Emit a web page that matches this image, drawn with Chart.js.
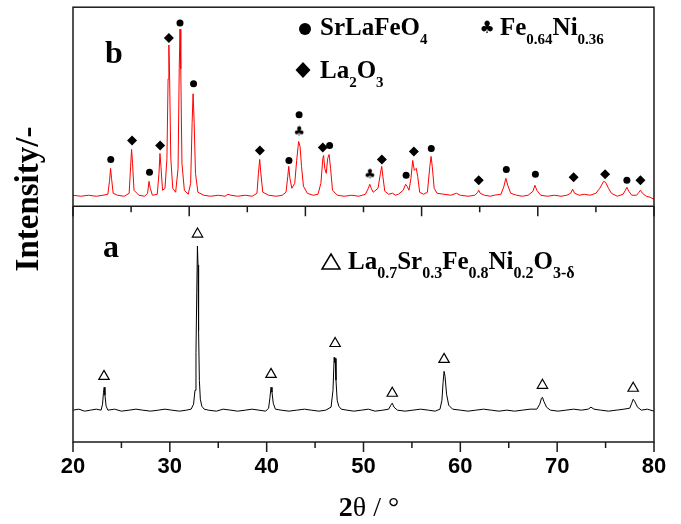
<!DOCTYPE html>
<html>
<head>
<meta charset="utf-8">
<script src="https://cdn.jsdelivr.net/npm/chart.js@4/dist/chart.umd.min.js"></script>
<style>
  html, body { margin: 0; padding: 0; background: #fff; }
  #wrap { width: 681px; height: 524px; position: relative; }
</style>
</head>
<body>
<div id="wrap"><canvas id="xrdChart"></canvas></div>
<script>
// pattern a: La0.7Sr0.3Fe0.8Ni0.2O3-d (black)
const twoThetaA = [20.0, 20.6, 21.2, 21.8, 22.4, 22.9, 23.05, 23.15, 23.22, 23.3, 23.42, 23.6, 24.3, 25.0, 25.8, 26.5, 27.2, 28.0, 28.8, 29.5,
  30.2, 31.0, 31.7, 32.2, 32.45, 32.6, 32.7, 32.78, 32.85, 32.91, 32.97, 33.05, 33.15, 33.3, 33.55, 34.0, 34.8, 35.5, 36.3, 37.0,
  37.8, 38.5, 39.2, 39.9, 40.2, 40.33, 40.45, 40.55, 40.68, 40.9, 41.5, 42.3, 43.1, 43.9, 44.6, 45.4, 46.1, 46.65, 46.85, 46.97,
  47.03, 47.09, 47.16, 47.28, 47.45, 47.7, 48.3, 49.0, 49.8, 50.5, 51.2, 52.0, 52.6, 52.82, 52.97, 53.15, 53.5, 54.3, 55.1, 55.9,
  56.7, 57.4, 57.9, 58.1, 58.22, 58.32, 58.42, 58.58, 58.8, 59.2, 60.0, 60.8, 61.6, 62.4, 63.2, 64.0, 64.8, 65.6, 66.4, 67.2,
  67.9, 68.2, 68.38, 68.48, 68.62, 68.9, 69.3, 70.1, 70.9, 71.7, 72.5, 73.2, 73.5, 73.8, 74.5, 75.3, 76.1, 76.9, 77.5, 77.7,
  77.85, 78.0, 78.3, 78.7, 79.3, 80.0];
const intensityA = [32, 33, 31, 32, 33, 32, 38, 50, 55, 47, 36, 32, 33, 31, 32, 33, 32, 31, 32, 33,
  32, 31, 32, 33, 38, 52, 90, 150, 197, 178, 112, 62, 43, 36, 33, 32, 31, 33, 32, 31,
  32, 33, 32, 31, 34, 44, 55, 50, 39, 33, 32, 31, 32, 33, 32, 31, 32, 35, 52, 85,
  80, 84, 62, 42, 36, 33, 32, 31, 32, 33, 31, 32, 33, 37, 39, 35, 32, 31, 32, 33,
  32, 31, 33, 42, 60, 71, 66, 48, 37, 33, 32, 31, 32, 33, 32, 31, 32, 31, 32, 33,
  33, 38, 44, 45, 41, 35, 32, 31, 32, 33, 32, 33, 35, 33, 32, 31, 32, 33, 34, 39,
  43, 41, 35, 32, 33, 31];

// pattern b: reduced sample (red)
const twoThetaB = [20.0, 20.8, 21.6, 22.4, 23.1, 23.6, 23.78, 23.88, 23.98, 24.15, 24.6, 25.3, 25.8, 25.95, 26.05, 26.15, 26.3, 26.8, 27.4, 27.7,
  27.85, 27.98, 28.2, 28.7, 28.88, 28.98, 29.08, 29.25, 29.5, 29.7, 29.82, 29.9, 29.98, 30.1, 30.3, 30.6, 30.85, 30.97, 31.05, 31.13,
  31.25, 31.5, 31.9, 32.15, 32.3, 32.4, 32.5, 32.65, 32.9, 33.5, 34.2, 35.0, 35.7, 36.0, 36.3, 37.0, 37.8, 38.5, 39.0, 39.15,
  39.28, 39.4, 39.6, 40.2, 41.0, 41.6, 42.0, 42.18, 42.28, 42.4, 42.6, 42.9, 43.1, 43.3, 43.45, 43.6, 43.8, 44.2, 44.8, 45.3,
  45.6, 45.8, 45.88, 46.0, 46.15, 46.3, 46.45, 46.6, 46.8, 47.3, 48.0, 48.8, 49.5, 50.2, 50.5, 50.65, 50.8, 51.0, 51.5, 51.75,
  51.88, 52.0, 52.2, 52.6, 53.0, 53.3, 53.6, 54.1, 54.35, 54.5, 54.7, 54.9, 55.08, 55.25, 55.45, 55.6, 55.8, 56.2, 56.6, 56.85,
  56.98, 57.1, 57.3, 57.6, 58.3, 59.0, 59.6, 60.0, 60.8, 61.5, 61.8, 61.9, 62.05, 62.5, 63.1, 63.5, 64.2, 64.5, 64.7, 64.9,
  65.2, 65.8, 66.4, 67.0, 67.5, 67.7, 67.9, 68.3, 69.0, 69.7, 70.4, 71.0, 71.4, 71.6, 71.8, 72.3, 72.8, 73.4, 74.0, 74.4,
  74.8, 75.0, 75.3, 75.6, 76.2, 76.8, 77.05, 77.2, 77.4, 77.7, 78.2, 78.45, 78.6, 78.8, 79.2, 79.6, 80.0];
const intensityB = [33, 32, 33, 32, 33, 34, 48, 60, 50, 35, 33, 32, 35, 62, 79, 65, 38, 33, 32, 35,
  47, 40, 33, 34, 55, 75, 62, 38, 40, 70, 150, 184, 150, 70, 40, 36, 60, 160, 200, 160,
  65, 38, 34, 45, 105, 135, 110, 55, 36, 33, 32, 33, 32, 34, 33, 32, 33, 32, 35, 55,
  69, 55, 36, 33, 32, 33, 36, 52, 62, 50, 40, 45, 68, 87, 82, 62, 42, 35, 33, 34,
  45, 70, 73, 60, 55, 70, 74, 60, 38, 33, 32, 33, 32, 34, 40, 44, 40, 36, 40, 55,
  62, 52, 37, 34, 35, 33, 34, 38, 44, 42, 38, 50, 68, 58, 60, 52, 36, 34, 36, 62,
  72, 62, 40, 35, 34, 33, 35, 33, 32, 33, 36, 38, 35, 33, 32, 33, 34, 42, 50, 43,
  35, 33, 32, 33, 37, 43, 38, 33, 32, 33, 32, 33, 35, 39, 35, 33, 34, 33, 35, 40,
  47, 46, 40, 35, 32, 34, 38, 41, 37, 33, 33, 36, 38, 35, 32, 31, 29];

// phase markers
const perovskite2Theta = [23.2, 32.86, 40.45, 47.07, 52.97, 58.32, 68.48, 77.85];
const perovskiteY = [66, 209, 68, 99, 49, 83, 57, 54];
const srLaFeO4_2Theta = [23.9, 27.9, 31.05, 32.45, 42.3, 43.35, 46.5, 54.4, 57.0, 64.75, 67.75, 77.2];
const srLaFeO4_Y = [69, 56, 206, 145, 68, 114, 83, 53, 80, 59, 54, 48];
const la2O3_2Theta = [26.1, 29.0, 29.9, 39.3, 45.8, 51.9, 55.2, 61.9, 71.7, 74.95, 78.6];
const la2O3_Y = [88, 83, 191, 78, 81, 69, 77, 48, 51, 54, 48];
const feNi2Theta = [43.35, 50.65];
const feNiY = [97, 54];

const offsetB = 215;
const yMax = 437;
const dividerY = 237;

const pts = (xs, ys, off) => xs.map((x, i) => ({ x: x, y: ys[i] + off }));

function clubImage() {
  const c = document.createElement("canvas");
  c.width = 14; c.height = 14;
  const g = c.getContext("2d");
  g.fillStyle = "#000";
  g.font = "13px 'DejaVu Sans'";
  g.textAlign = "center";
  g.textBaseline = "middle";
  g.fillText("\u2663", 7, 8);
  return c;
}

const serif = "'Liberation Serif', 'Times New Roman', serif";

function drawRich(ctx, x, y, parts, size, subSize, subDrop) {
  let cx = x;
  ctx.textAlign = "left";
  ctx.textBaseline = "alphabetic";
  parts.forEach(p => {
    const sub = p[1];
    ctx.font = "bold " + (sub ? subSize : size) + "px " + serif;
    ctx.fillText(p[0], cx, sub ? y + subDrop : y);
    cx += ctx.measureText(p[0]).width;
  });
}

const decor = {
  id: "decor",
  afterDatasetsDraw(chart) {
    const ctx = chart.ctx;
    const a = chart.chartArea;
    const xs = chart.scales.x;
    const ys = chart.scales.y;
    ctx.save();
    ctx.strokeStyle = "#1a1a1a";
    ctx.lineWidth = 1.5;
    ctx.strokeRect(a.left, a.top, a.right - a.left, a.bottom - a.top);
    const dy = ys.getPixelForValue(dividerY);
    ctx.beginPath();
    ctx.moveTo(a.left, dy); ctx.lineTo(a.right, dy);
    // bottom axis ticks
    for (let v = 20; v <= 80; v += 5) {
      const px = xs.getPixelForValue(v);
      ctx.moveTo(px, a.bottom);
      ctx.lineTo(px, a.bottom + (v % 10 === 0 ? 10 : 6));
    }
    // divider ticks (top panel axis)
    for (let k = 0; k <= 10; k++) {
      const px = xs.getPixelForValue(20 + 6 * k);
      ctx.moveTo(px, dy);
      ctx.lineTo(px, dy + (k % 2 === 0 ? 10 : 6));
    }
    ctx.stroke();
    ctx.restore();
  },
  afterDraw(chart) {
    const ctx = chart.ctx;
    ctx.save();
    ctx.fillStyle = "#000";
    ctx.strokeStyle = "#000";

    // panel letters
    ctx.font = "bold 32px " + serif;
    ctx.textAlign = "left";
    ctx.textBaseline = "alphabetic";
    ctx.fillText("b", 105, 63);
    ctx.fillText("a", 103, 257);

    // legend: SrLaFeO4
    ctx.beginPath(); ctx.arc(305, 29, 6, 0, Math.PI * 2); ctx.fill();
    drawRich(ctx, 320, 35, [["SrLaFeO", 0], ["4", 1]], 25, 15, 9);

    // legend: Fe0.64Ni0.36
    ctx.font = "17px 'DejaVu Sans'";
    ctx.textAlign = "center"; ctx.textBaseline = "middle";
    ctx.fillText("\u2663", 487, 29);
    drawRich(ctx, 500, 35, [["Fe", 0], ["0.64", 1], ["Ni", 0], ["0.36", 1]], 25, 15, 9);

    // legend: La2O3
    ctx.beginPath();
    ctx.moveTo(303, 62); ctx.lineTo(310.5, 70); ctx.lineTo(303, 78); ctx.lineTo(295.5, 70);
    ctx.closePath(); ctx.fill();
    drawRich(ctx, 320, 78, [["La", 0], ["2", 1], ["O", 0], ["3", 1]], 25, 15, 9);

    // legend: perovskite
    ctx.lineWidth = 1.5;
    ctx.beginPath();
    ctx.moveTo(331, 254); ctx.lineTo(340, 269); ctx.lineTo(322, 269);
    ctx.closePath(); ctx.stroke();
    drawRich(ctx, 348, 269, [["La", 0], ["0.7", 1], ["Sr", 0], ["0.3", 1], ["Fe", 0], ["0.8", 1], ["Ni", 0], ["0.2", 1], ["O", 0], ["3-\u03b4", 1]], 25, 16, 9);

    // y axis title
    ctx.save();
    ctx.translate(29, 199);
    ctx.rotate(-Math.PI / 2);
    ctx.font = "bold 33px " + serif;
    ctx.textAlign = "center";
    ctx.textBaseline = "middle";
    ctx.fillText("Intensity/-", 0, 0);
    ctx.restore();

    // x axis title: 2θ / °
    ctx.textBaseline = "alphabetic";
    ctx.textAlign = "left";
    ctx.font = "bold 28px " + serif;
    const w2 = ctx.measureText("2").width;
    ctx.font = "28px " + serif;
    const rest = "\u03b8 / \u00b0";
    const wr = ctx.measureText(rest).width;
    const x0 = 369 - (w2 + wr) / 2;
    ctx.font = "bold 28px " + serif;
    ctx.fillText("2", x0, 516);
    ctx.font = "28px " + serif;
    ctx.fillText(rest, x0 + w2, 516);

    ctx.restore();
  }
};

const data = {
  datasets: [
    {
      label: "b",
      data: pts(twoThetaB, intensityB, offsetB),
      borderColor: "#ff0000",
      borderWidth: 1,
      pointRadius: 0,
      tension: 0,
    },
    {
      label: "a",
      data: pts(twoThetaA, intensityA, 0),
      borderColor: "#000000",
      borderWidth: 1,
      pointRadius: 0,
      tension: 0,
    },
    {
      label: "La0.7Sr0.3Fe0.8Ni0.2O3",
      data: pts(perovskite2Theta, perovskiteY, 0),
      showLine: false,
      pointStyle: "triangle",
      pointRadius: 6,
      pointBackgroundColor: "#ffffff",
      pointBorderColor: "#000000",
      pointBorderWidth: 1.2,
    },
    {
      label: "SrLaFeO4",
      data: pts(srLaFeO4_2Theta, srLaFeO4_Y, offsetB),
      showLine: false,
      pointStyle: "circle",
      pointRadius: 3.5,
      pointBackgroundColor: "#000000",
      pointBorderColor: "#000000",
      pointBorderWidth: 0,
    },
    {
      label: "La2O3",
      data: pts(la2O3_2Theta, la2O3_Y, offsetB),
      showLine: false,
      pointStyle: "rectRot",
      pointRadius: 5,
      pointBackgroundColor: "#000000",
      pointBorderColor: "#000000",
      pointBorderWidth: 0,
    },
    {
      label: "Fe0.64Ni0.36",
      data: pts(feNi2Theta, feNiY, offsetB),
      showLine: false,
      pointStyle: clubImage(),
      pointRadius: 6,
    },
  ],
};

const config = {
  type: "line",
  data: data,
  options: {
    responsive: true,
    maintainAspectRatio: false,
    animation: false,
    layout: {
      padding: { left: 73, top: 5, right: 27, bottom: 31.6 }
    },
    plugins: {
      legend: { display: false },
      tooltip: { enabled: false },
    },
    scales: {
      x: {
        type: "linear",
        min: 20,
        max: 80,
        grid: { display: false, drawTicks: false },
        border: { display: false },
        ticks: {
          stepSize: 5,
          autoSkip: false,
          maxRotation: 0,
          padding: 12,
          color: "#000",
          font: { family: "'Liberation Sans', Arial, sans-serif", size: 22, weight: "bold" },
          callback: v => (v % 10 === 0 ? v : ""),
        },
      },
      y: {
        display: false,
        min: 0,
        max: yMax,
      },
    },
  },
  plugins: [decor],
};

new Chart(document.getElementById("xrdChart"), config);
</script>
</body>
</html>
